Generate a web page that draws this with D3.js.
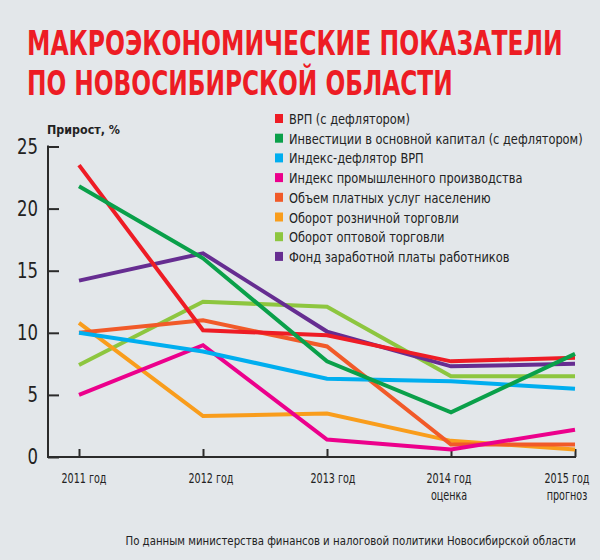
<!DOCTYPE html>
<html>
<head>
<meta charset="utf-8">
<script src="https://cdn.jsdelivr.net/npm/d3@7"></script>
<style>
  html, body { margin: 0; padding: 0; background: #e3e7ea; }
  svg { display: block; }
  text { font-family: "DejaVu Sans Condensed", "DejaVu Sans", sans-serif; fill: #222; }
</style>
</head>
<body>
<svg id="chart" width="600" height="560"></svg>
<script>
// Data
const years = ['2011 год', '2012 год', '2013 год', '2014 год', '2015 год'];
const yearNotes = ['', '', '', 'оценка', 'прогноз'];
const yTicks = [0, 5, 10, 15, 20, 25];

const seriesNames = [
  'ВРП (с дефлятором)',
  'Инвестиции в основной капитал (с дефлятором)',
  'Индекс-дефлятор ВРП',
  'Индекс промышленного производства',
  'Объем платных услуг населению',
  'Оборот розничной торговли',
  'Оборот оптовой торговли',
  'Фонд заработной платы работников'
];
const seriesColors = ['#ee1c25', '#0aa04a', '#00aeef', '#ec008c', '#f15a29', '#f99d1c', '#8dc63f', '#662d91'];

const vrp        = [23.5, 10.2, 9.8, 7.7, 8.0];
const invest     = [21.8, 16.0, 7.7, 3.6, 8.3];
const deflator   = [10.0, 8.5, 6.3, 6.1, 5.5];
const industry   = [5.0, 9.0, 1.4, 0.6, 2.2];
const services   = [10.0, 11.0, 8.9, 1.0, 1.0];
const retail     = [10.8, 3.3, 3.5, 1.3, 0.6];
const wholesale  = [7.4, 12.5, 12.1, 6.5, 6.5];
const wages      = [14.2, 16.4, 10.1, 7.3, 7.5];

const seriesValues = [vrp, invest, deflator, industry, services, retail, wholesale, wages];
// drawing order (bottom to top)
const drawOrder = [6, 5, 4, 3, 2, 7, 0, 1];
// year labels sit a little off their ticks in the original
const labelShift = [5, 8, 6, -2, -8];

const svg = d3.select('#chart');

// squeeze a group of texts horizontally (around their own x) so one sample text gets a given width
function condense(sel, sampleNode, width) {
  const k = width / sampleNode.getComputedTextLength();
  sel.each(function() {
    const x0 = +this.getAttribute('x') || 0;
    d3.select(this).attr('transform', `translate(${x0},0) scale(${k},1) translate(${-x0},0)`);
  });
  return k;
}

// Title
const titleLines = [
  {text: 'МАКРОЭКОНОМИЧЕСКИЕ ПОКАЗАТЕЛИ', y: 55, width: 536},
  {text: 'ПО НОВОСИБИРСКОЙ ОБЛАСТИ', y: 95, width: 426}
];
titleLines.forEach(t => {
  const txt = svg.append('text')
    .attr('x', 27).attr('y', t.y)
    .attr('font-size', 33)
    .attr('font-weight', 'bold')
    .style('fill', '#ed1c24')
    .text(t.text);
  condense(txt, txt.node(), t.width);
});

// Scales
const x = d3.scalePoint().domain(years).range([79, 575]);
const y = d3.scaleLinear().domain([0, 25]).range([457, 146.5]);

// Axes
const axisColor = '#2b2b2b';
const yAxis = svg.append('g').attr('transform', 'translate(48,0)')
  .call(d3.axisRight(y).tickValues(yTicks).tickSize(11).tickFormat(''));
yAxis.select('.domain').remove();
yAxis.selectAll('line').attr('stroke', axisColor).attr('stroke-width', 2);

svg.append('line')
  .attr('x1', 48).attr('x2', 48)
  .attr('y1', y(25) - 1).attr('y2', y(0) + 1)
  .attr('stroke', axisColor).attr('stroke-width', 2);

const xAxis = svg.append('g').attr('transform', `translate(0,${y(0)})`)
  .call(d3.axisTop(x).tickSize(8).tickFormat(''));
xAxis.select('.domain').remove();
xAxis.selectAll('line').attr('stroke', axisColor).attr('stroke-width', 2);

svg.append('line')
  .attr('x1', 47).attr('x2', x(years[4]) + 1)
  .attr('y1', y(0)).attr('y2', y(0))
  .attr('stroke', axisColor).attr('stroke-width', 2);

// Y tick labels
const yl = svg.append('g').selectAll('text')
  .data(yTicks)
  .join('text')
  .attr('x', 38)
  .attr('y', d => y(d) + 7.5)
  .attr('text-anchor', 'end')
  .attr('font-size', 21)
  .style('fill', '#222')
  .text(d => d);
condense(yl, yl.nodes()[5], 21);

// Axis title
const at = svg.append('text')
  .attr('x', 47).attr('y', 134)
  .attr('font-size', 13)
  .attr('font-weight', 'bold')
  .text('Прирост, %');
condense(at, at.node(), 73);

// X labels
const xl1 = svg.append('g').selectAll('text')
  .data(years)
  .join('text')
  .attr('x', (d, i) => x(d) + labelShift[i])
  .attr('y', 483)
  .attr('text-anchor', 'middle')
  .attr('font-size', 14)
  .text(d => d);
const xl2 = svg.append('g').selectAll('text')
  .data(years.filter((d, i) => yearNotes[i]))
  .join('text')
  .attr('x', d => x(d) + labelShift[years.indexOf(d)])
  .attr('y', 500)
  .attr('text-anchor', 'middle')
  .attr('font-size', 14)
  .text(d => yearNotes[years.indexOf(d)]);
const xk = condense(xl1, xl1.node(), 45);
condense(xl2, xl2.node(), xl2.node().getComputedTextLength() * xk);

// Lines
const line = d3.line()
  .x((d, i) => x(years[i]))
  .y(d => y(d));

svg.append('g').selectAll('path')
  .data(drawOrder)
  .join('path')
  .attr('fill', 'none')
  .attr('stroke', i => seriesColors[i])
  .attr('stroke-width', 4)
  .attr('stroke-linejoin', 'miter')
  .attr('d', i => line(seriesValues[i]));

// Legend
const legend = svg.append('g').attr('transform', 'translate(275,119)');
const rows = legend.selectAll('g')
  .data(seriesNames)
  .join('g')
  .attr('transform', (d, i) => `translate(0,${i * 19.7})`);
rows.append('rect')
  .attr('x', 0).attr('y', -5)
  .attr('width', 8).attr('height', 9)
  .attr('fill', (d, i) => seriesColors[i]);
const lt = rows.append('text')
  .attr('x', 14).attr('y', 5)
  .attr('font-size', 14)
  .text(d => d);
condense(lt, lt.nodes()[1], 294);

// Source note
const src = svg.append('text')
  .attr('x', 576).attr('y', 545)
  .attr('text-anchor', 'end')
  .attr('font-size', 12.5)
  .text('По данным министерства финансов и налоговой политики Новосибирской области');
condense(src, src.node(), 451);
</script>
</body>
</html>
